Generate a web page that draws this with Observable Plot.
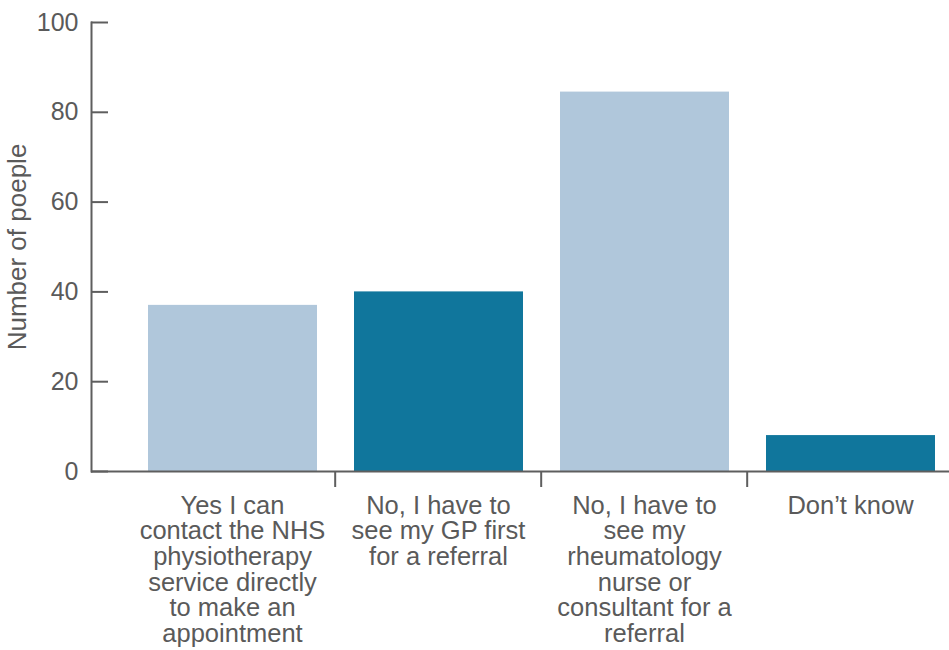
<!DOCTYPE html>
<html>
<head>
<meta charset="utf-8">
<script src="https://cdn.jsdelivr.net/npm/d3@7"></script>
<script src="https://cdn.jsdelivr.net/npm/@observablehq/plot@0.6"></script>
<style>
  html, body { margin: 0; padding: 0; background: #fff; }
</style>
</head>
<body>
<div id="chart"></div>
<script>
const categories = [
  "Yes I can\ncontact the NHS\nphysiotherapy\nservice directly\nto make an\nappointment",
  "No, I have to\nsee my GP first\nfor a referral",
  "No, I have to\nsee my\nrheumatology\nnurse or\nconsultant for a\nreferral",
  "Don\u2019t know"
];
const values = [37, 40, 84.5, 8];
const yTicks = [0, 20, 40, 60, 80, 100];
const yLabel = "Number of poeple";

const data = categories.map((c, i) => ({category: c, value: values[i], idx: i}));

const LIGHT = "#b0c7db";
const DARK = "#10769c";
const AXIS = "#5e5e5e";
const TEXT = "#5a5a5a";

const W = 949, H = 650;
const xRange = [127.5, 954];
const step = (xRange[1] - xRange[0]) / categories.length;

const chart = Plot.plot({
  width: W,
  height: H,
  marginTop: 22,
  marginBottom: 179,
  marginLeft: 91,
  marginRight: 0,
  style: {fontFamily: "'Liberation Sans', Arial, Helvetica, sans-serif", color: TEXT, background: "#fff"},
  x: {domain: categories, range: xRange, padding: 0},
  y: {domain: [0, 100]},
  marks: [
    Plot.barY(data, {
      x: "category", y: "value",
      fill: d => d.idx % 2 ? DARK : LIGHT,
      insetLeft: 19, insetRight: 18
    }),
    // y-axis labels
    Plot.axisY({ticks: yTicks, tickSize: 0, tickPadding: 13, fontSize: 25, label: null, color: TEXT}),
    // inward y ticks
    Plot.ruleY(yTicks, {y: d => d, insetRight: W - 91 - 17, stroke: AXIS, strokeWidth: 2}),
    // y axis line
    Plot.frame({anchor: "left", stroke: AXIS, strokeWidth: 2}),
    // x axis line
    Plot.ruleY([0], {stroke: AXIS, strokeWidth: 2}),
    // x boundary ticks
    Plot.axisX({ticks: categories.slice(1), tickSize: 16, dx: -step / 2, text: null, stroke: AXIS, strokeWidth: 2, label: null}),
    // x labels
    Plot.axisX({tickSize: 0, tickPadding: 24, fontSize: 25.5, lineHeight: 1.005, label: null, color: TEXT}),
    // y label
    Plot.text([yLabel], {frameAnchor: "left", rotate: -90, dx: -74, fontSize: 26, textAnchor: "middle", fill: TEXT, text: d => d})
  ]
});
document.getElementById("chart").appendChild(chart);
</script>
</body>
</html>
